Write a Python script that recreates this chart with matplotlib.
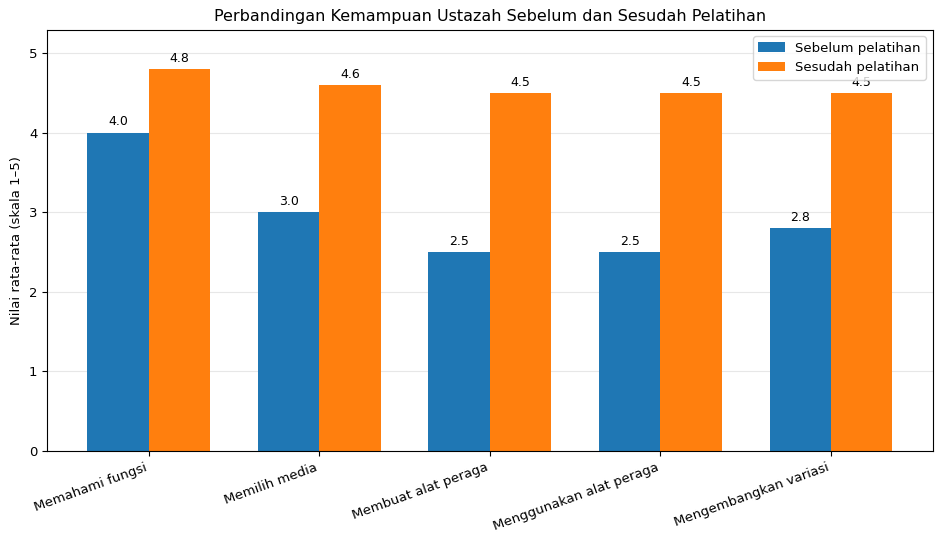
import matplotlib
matplotlib.use("Agg")
import matplotlib.pyplot as plt
import numpy as np

categories = ["Memahami fungsi", "Memilih media", "Membuat alat peraga",
              "Menggunakan alat peraga", "Mengembangkan variasi"]
sebelum = [4.0, 3.0, 2.5, 2.5, 2.8]
sesudah = [4.8, 4.6, 4.5, 4.5, 4.5]

fig, ax = plt.subplots(figsize=(9.43, 5.42), dpi=100)
x = np.arange(len(categories))
w = 0.36
b1 = ax.bar(x - w/2, sebelum, w, label="Sebelum pelatihan", color="#1f77b4")
b2 = ax.bar(x + w/2, sesudah, w, label="Sesudah pelatihan", color="#ff7f0e")
ax.bar_label(b1, fmt="%.1f", padding=3, fontsize=9)
ax.bar_label(b2, fmt="%.1f", padding=3, fontsize=9)
ax.set_ylim(0, 5.29)
ax.set_xticks(x)
ax.set_xticklabels(categories, rotation=20, ha="right", fontsize=9.5)
ax.tick_params(axis="y", labelsize=9.5)
ax.set_ylabel("Nilai rata-rata (skala 1–5)", fontsize=9.5)
ax.set_title("Perbandingan Kemampuan Ustazah Sebelum dan Sesudah Pelatihan", fontsize=11.5)
ax.yaxis.grid(True, alpha=0.3)
ax.set_axisbelow(True)
ax.legend(loc="upper right", fontsize=9.5)
fig.subplots_adjust(left=0.05, right=0.989, top=0.945, bottom=0.168)
fig.savefig("out.png", dpi=100)
